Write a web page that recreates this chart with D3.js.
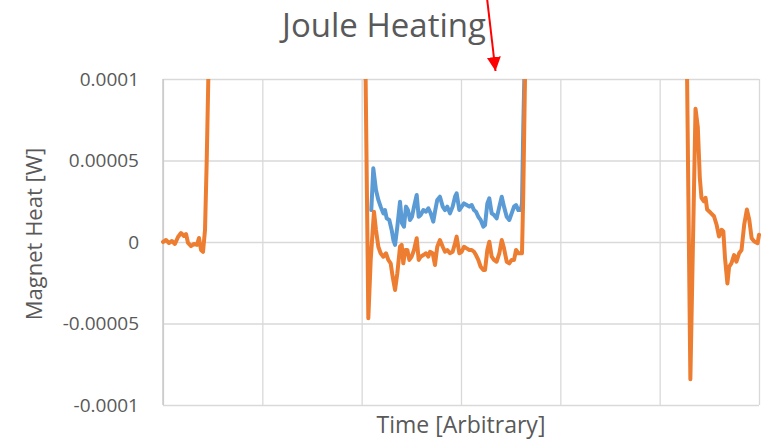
<!DOCTYPE html>
<html>
<head>
<meta charset="utf-8">
<script src="https://cdn.jsdelivr.net/npm/d3@7"></script>
<style>
  body { margin: 0; background: #fff; }
  text { font-family: "Open Sans", sans-serif; fill: #595959; }
</style>
</head>
<body>
<div id="content"></div>
<script>
var width = 761;
var height = 441;

// arbitrary time units, heat in W (values above the top are clipped, as in the original)
var orangeTime = [0, 3, 6, 9, 12, 15.1, 18.1, 21.1, 23.2, 25.2, 28.2, 31.2, 34.2, 36.2, 38.3, 40.3, 42.3, 44.0, 45.6,
    47, 120, 202.5,
    204.0, 206.7, 209.1, 212.4, 214.4, 216.8, 219.1, 221.8, 224.5, 226.8, 229.2, 231.2, 233.6, 235.9, 238.6, 240.3,
    241.9, 243.9, 246.0, 248.0, 250.3, 252.7, 255.4, 257.4, 259.4, 262.1, 264.8, 267.1, 268.8, 271.5, 273.8, 276.1,
    278.8, 281.6, 283.9, 286.2, 288.9, 291.6, 294.0, 295.6, 298.3, 300.7, 303.0, 305.7, 308.4, 310.8, 313.1, 315.1,
    317.4, 319.8, 322.5, 324.2, 326.5, 328.5, 330.9, 333.2, 335.9, 338.6, 341.0, 343.3, 346.0, 348.6, 351.0, 353.4,
    355.4, 357.7, 360.1, 361.4, 362.7, 363.7, 364.4,
    366, 450, 526,
    527.6, 530.9, 536.1, 538.4, 540.4, 542.1, 544.5, 546.2, 547.8, 551.3, 554.7, 557.3, 559.7, 562.4, 564.1, 565.8,
    568.2, 569.9, 572.2, 574.9, 577.3, 580.0, 582.4, 585.1, 587.8, 590.2, 592.6, 595.3, 598.6, 600];
var orangeHeat = [0, 0.12e-5, -0.06e-5, 0.06e-5, -0.12e-5, 0.31e-5, 0.55e-5, 0.37e-5, 0.49e-5, -0.06e-5, -0.25e-5,
    -0.12e-5, -0.18e-5, 0.25e-5, -0.49e-5, -0.61e-5, 0.74e-5, 4.96e-5, 9.94e-5,
    20e-5, 45e-5, 15e-5,
    9.94e-5, -4.68e-5, -1.10e-5, 1.86e-5, 0.74e-5, -0.29e-5, -0.69e-5, -0.90e-5, -0.69e-5, -1.10e-5, -1.31e-5,
    -2.13e-5, -2.94e-5, -1.92e-5, -0.29e-5, -0.18e-5, -1.31e-5, -0.49e-5, -0.49e-5, -1.10e-5, -0.90e-5, -0.49e-5,
    0.23e-5, -1.10e-5, -0.90e-5, -0.80e-5, -0.69e-5, -0.90e-5, -0.60e-5, -0.69e-5, -1.41e-5, -0.29e-5, 0.12e-5,
    -0.29e-5, -0.60e-5, -0.49e-5, -0.69e-5, -0.60e-5, -0.08e-5, 0.33e-5, -0.69e-5, -0.60e-5, -0.29e-5, -0.39e-5,
    -0.49e-5, -0.49e-5, -0.60e-5, -0.80e-5, -1.10e-5, -1.52e-5, -1.72e-5, -1.72e-5, -0.49e-5, 0.02e-5, -0.90e-5,
    -1.10e-5, -1.21e-5, -0.69e-5, 0.12e-5, -0.39e-5, -1.21e-5, -1.31e-5, -1.10e-5, -1.10e-5, -0.49e-5, -0.69e-5,
    -0.69e-5, -0.69e-5, 2.99e-5, 7.07e-5, 9.94e-5,
    15e-5, 45e-5, 15e-5,
    10.1e-5, -8.42e-5, 8.18e-5, 7.04e-5, 3.95e-5, 2.71e-5, 2.50e-5, 2.71e-5, 1.99e-5, 1.79e-5, 1.58e-5, 1.06e-5,
    0.34e-5, 0.75e-5, 0.65e-5, -1.00e-5, -2.55e-5, -1.52e-5, -1.31e-5, -0.80e-5, -1.21e-5, -0.69e-5, -0.49e-5,
    1.06e-5, 1.99e-5, 1.37e-5, 0.23e-5, 0.03e-5, -0.07e-5, 0.44e-5];

var blueTime = [209.7, 211.7, 214.4, 216.8, 219.1, 221.8, 223.5, 225.2, 227.8, 230.2, 231.9, 233.6, 235.9, 238.6,
    240.6, 242.6, 244.6, 246.6, 248.7, 250.7, 252.7, 255.4, 257.4, 259.4, 262.1, 264.8, 267.1, 269.5, 272.1, 274.1,
    276.1, 278.8, 281.6, 283.9, 286.2, 288.9, 291.6, 294.0, 295.6, 298.3, 300.7, 303.0, 305.7, 308.4, 310.8, 313.1,
    315.1, 317.4, 319.8, 322.5, 324.2, 326.5, 328.5, 330.9, 333.2, 335.9, 338.6, 341.0, 343.3, 346.0, 348.6, 351.0,
    353.4, 355.4, 357.7, 360.1, 361.4, 362.7, 363.7, 365];
var blueHeat = [1.96e-5, 4.52e-5, 3.19e-5, 2.58e-5, 2.17e-5, 1.76e-5, 1.96e-5, 1.45e-5, 1.35e-5, 0.74e-5, 0.12e-5,
    -0.18e-5, 0.94e-5, 2.47e-5, 1.15e-5, 0.94e-5, 2.17e-5, 1.96e-5, 1.35e-5, 1.55e-5, 2.17e-5, 2.88e-5, 1.55e-5,
    1.66e-5, 1.96e-5, 1.86e-5, 2.07e-5, 1.76e-5, 1.25e-5, 1.96e-5, 2.58e-5, 2.78e-5, 2.17e-5, 1.96e-5, 2.17e-5,
    1.76e-5, 2.17e-5, 2.78e-5, 2.99e-5, 1.96e-5, 2.17e-5, 2.37e-5, 2.27e-5, 2.17e-5, 2.27e-5, 1.96e-5, 1.86e-5,
    1.55e-5, 1.35e-5, 0.94e-5, 1.04e-5, 2.37e-5, 2.68e-5, 1.76e-5, 1.66e-5, 1.45e-5, 2.17e-5, 2.78e-5, 2.17e-5,
    1.55e-5, 1.35e-5, 1.76e-5, 2.17e-5, 2.27e-5, 1.96e-5, 1.96e-5, 2.37e-5, 7.07e-5, 9.94e-5, 15e-5];

var yTicks = [-0.0001, -0.00005, 0, 0.00005, 0.0001];
var xTicks = [0, 100, 200, 300, 400, 500, 600];

var plot = {left: 163, right: 759, top: 79, bottom: 405};

var x = d3.scaleLinear().domain([0, 600]).range([plot.left, plot.right]);
var y = d3.scaleLinear().domain([-0.0001, 0.0001]).range([plot.bottom, plot.top]);

var svg = d3.select('div#content').append('svg')
    .attr('width', width)
    .attr('height', height);

svg.append('rect')
    .attr('width', width)
    .attr('height', height)
    .attr('fill', '#fff');

svg.append('defs').append('clipPath')
    .attr('id', 'plotClip')
    .append('rect')
        .attr('x', plot.left - 5)
        .attr('y', plot.top)
        .attr('width', plot.right - plot.left + 10)
        .attr('height', plot.bottom - plot.top);

// gridlines
svg.append('g')
    .attr('transform', 'translate(0,' + plot.bottom + ')')
    .call(d3.axisBottom(x).tickValues(xTicks).tickSize(-(plot.bottom - plot.top)).tickFormat(''))
    .call(function(g){
        g.select('.domain').remove();
        g.selectAll('line').attr('stroke', '#d9d9d9').attr('stroke-width', 1.3);
    });

svg.append('g')
    .attr('transform', 'translate(' + plot.left + ',0)')
    .call(d3.axisLeft(y).tickValues(yTicks).tickSize(-(plot.right - plot.left)).tickPadding(24)
        .tickFormat(function(d){ return d === 0 ? '0' : String(d); }))
    .call(function(g){
        g.select('.domain').remove();
        g.selectAll('line').attr('stroke', '#d9d9d9').attr('stroke-width', 1.3);
        g.selectAll('text')
            .style('font-size', '19px')
            .attr('fill', '#595959');
    });

svg.append('line')
    .attr('x1', plot.left).attr('x2', plot.left)
    .attr('y1', plot.top).attr('y2', plot.bottom)
    .attr('stroke', '#c4c4c4')
    .attr('stroke-width', 1.3);

var line = d3.line()
    .x(function(d){ return x(d[0]); })
    .y(function(d){ return y(d[1]); });

var lines = svg.append('g').attr('clip-path', 'url(#plotClip)');

lines.append('path')
    .datum(d3.zip(blueTime, blueHeat))
    .attr('d', line)
    .attr('fill', 'none')
    .attr('stroke', '#5B9BD5')
    .attr('stroke-width', 4)
    .attr('stroke-linejoin', 'round')
    .attr('stroke-linecap', 'round');

lines.append('path')
    .datum(d3.zip(orangeTime, orangeHeat))
    .attr('d', line)
    .attr('fill', 'none')
    .attr('stroke', '#ED7D31')
    .attr('stroke-width', 4)
    .attr('stroke-linejoin', 'round')
    .attr('stroke-linecap', 'round');

// titles
svg.append('text')
    .attr('x', 384)
    .attr('y', 37)
    .attr('text-anchor', 'middle')
    .style('font-size', '33px')
    .text('Joule Heating');

svg.append('text')
    .attr('x', (plot.left + plot.right) / 2)
    .attr('y', 433)
    .attr('text-anchor', 'middle')
    .style('font-size', '23px')
    .text('Time [Arbitrary]');

svg.append('text')
    .attr('transform', 'translate(42,' + 234 + ') rotate(-90)')
    .attr('text-anchor', 'middle')
    .style('font-size', '22px')
    .text('Magnet Heat [W]');

// red annotation arrow
svg.append('defs').append('marker')
    .attr('id', 'arrowHead')
    .attr('viewBox', '0 0 10 10')
    .attr('refX', 10)
    .attr('refY', 5)
    .attr('markerWidth', 7)
    .attr('markerHeight', 7)
    .attr('markerUnits', 'strokeWidth')
    .attr('orient', 'auto')
    .append('path')
        .attr('d', 'M0,0 L10,5 L0,10 z')
        .attr('fill', '#ff0000');

svg.append('line')
    .attr('x1', 487).attr('y1', -2)
    .attr('x2', 495.5).attr('y2', 71)
    .attr('stroke', '#ff0000')
    .attr('stroke-width', 2)
    .attr('marker-end', 'url(#arrowHead)');
</script>
</body>
</html>
